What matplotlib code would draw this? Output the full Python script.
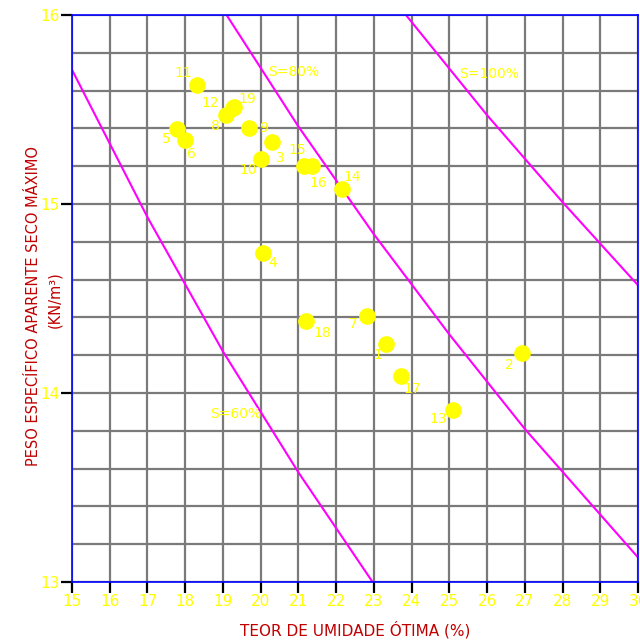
import matplotlib
matplotlib.use("Agg")
import matplotlib.pyplot as plt
import numpy as np

# ensaios (teor de umidade otima %, peso especifico seco maximo kN/m3)
ids = ["1", "2", "3", "4", "5", "6", "7", "8", "9", "10",
       "11", "12", "13", "14", "15", "16", "17", "18", "19"]
w_ot = [23.31, 26.92, 20.30, 20.07, 17.79, 17.99, 22.81, 19.08, 19.70, 20.00,
        18.31, 19.27, 25.11, 22.15, 21.15, 21.35, 23.71, 21.20, 19.29]
gd_max = [14.26, 14.21, 15.33, 14.74, 15.395, 15.34, 14.41, 15.47, 15.40, 15.24,
          15.63, 15.51, 13.91, 15.08, 15.20, 15.20, 14.09, 14.38, 15.515]

# curvas de saturacao
sat_names = ["S=60%", "S=80%", "S=100%"]
sat_w = [[15.0, 17.0, 19.0, 21.0, 23.0],
         [19.0, 21.0, 23.0, 25.0, 27.0, 30.0],
         [23.85, 26.0, 28.0, 30.0]]
sat_gd = [[15.71, 14.93, 14.22, 13.58, 12.99],
          [16.03, 15.41, 14.84, 14.31, 13.81, 13.13],
          [16.0, 15.47, 15.01, 14.57]]
sat_label_pos = [(19.35, 13.89), (20.87, 15.70), (26.05, 15.69)]

# deslocamento dos rotulos (pixels, x para direita, y para cima)
lbl_off = {"1": (-8, -11), "2": (-12, -12), "3": (8, -16), "4": (9, -10),
           "5": (-11, -10), "6": (7, -14), "7": (-13, -8), "8": (-11, -11),
           "9": (14, 0), "10": (-12, -11), "11": (-14, 12), "12": (-23, 5),
           "13": (-15, -9), "14": (10, 12), "15": (-7, 16), "16": (7, -17),
           "17": (12, -13), "18": (16, -12), "19": (13, 8)}

YEL = "#FFFF00"
RED = "#C00000"

fig = plt.figure(figsize=(6.4, 6.44), dpi=100)
ax = fig.add_axes([72 / 640, 1 - 582 / 644, 566 / 640, 567 / 644])

ax.set_xlim(15, 30)
ax.set_ylim(13, 16)
ax.set_xticks(np.arange(15, 31, 1))
ax.set_yticks([13, 14, 15, 16])
ax.set_yticks(np.arange(13, 16.01, 0.2), minor=True)
ax.grid(True, which="both", color="#7a7a7a", lw=1.6, zorder=1)
ax.tick_params(axis="both", which="major", direction="out", length=8, width=1.6,
               color="black", labelcolor=YEL, labelsize=11, pad=1)
ax.tick_params(axis="y", which="minor", length=0)
for sp in ax.spines.values():
    sp.set_color("#0000FF")
    sp.set_linewidth(1.2)
    sp.set_zorder(3)

for w, g in zip(sat_w, sat_gd):
    ax.plot(w, g, color="#FF00FF", lw=1.5, zorder=2)
for name, (px, py) in zip(sat_names, sat_label_pos):
    ax.text(px, py, name, color=YEL, fontsize=10, ha="center", va="center", zorder=4)

ax.plot(w_ot, gd_max, "o", ms=11, color=YEL, mec=YEL, zorder=5, clip_on=False)
for k, x, y in zip(ids, w_ot, gd_max):
    ax.annotate(k, (x, y), xytext=lbl_off[k], textcoords="offset pixels",
                color=YEL, fontsize=10, ha="center", va="center", zorder=6)

fig.text(355 / 640, 1 - 630 / 644, "TEOR DE UMIDADE ÓTIMA (%)", color=RED,
         fontsize=11, ha="center", va="center")
fig.text(34 / 640, 1 - 306 / 644, "PESO ESPECÍFICO APARENTE SECO MÁXIMO", color=RED,
         fontsize=10.5, ha="center", va="center", rotation=90)
fig.text(55 / 640, 1 - 300 / 644, "(KN/m³)", color=RED,
         fontsize=10.5, ha="center", va="center", rotation=90)

fig.savefig("out.png", dpi=100)
